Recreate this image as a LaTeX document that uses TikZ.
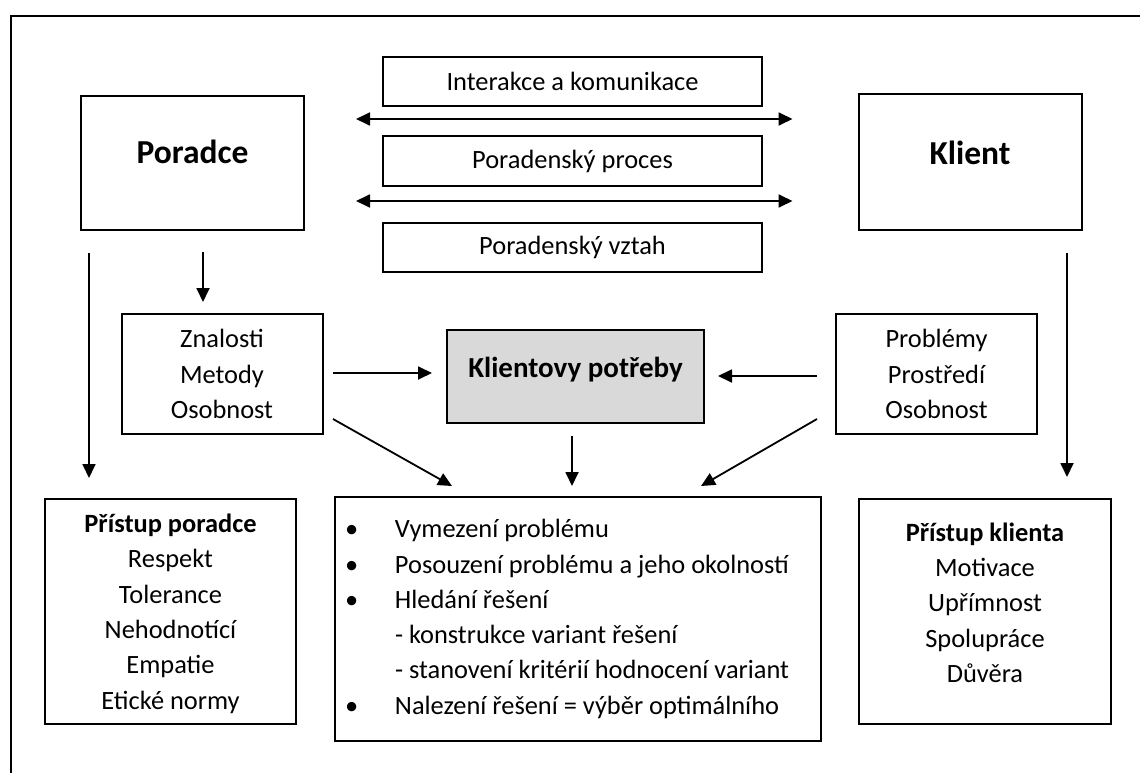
\documentclass[tikz,border=0pt]{standalone}
\usepackage{fontspec}
\setmainfont{Carlito}
\usetikzlibrary{arrows.meta,calc}
\begin{document}
\begin{tikzpicture}[x=1pt,y=-1pt,
  box/.style={draw,line width=2pt,rectangle,inner sep=0pt,align=center,
    font=\fontsize{26.4}{35.3}\selectfont},
  bigbox/.style={box,font=\fontsize{33.5}{40}\selectfont\bfseries},
  arr/.style={line width=1.8pt,-{Triangle[length=14pt,width=13pt]}},
  darr/.style={line width=1.8pt,{Triangle[length=14pt,width=13pt]}-{Triangle[length=14pt,width=13pt]}}
]
\useasboundingbox (0,0) rectangle (1140,773);
\draw[line width=1.2pt] (11,773) -- (11,16) -- (1140,16);

\node[bigbox,minimum width=223pt,minimum height=134pt,text height=24pt,text depth=23.6pt] (P) at (192.5,163) {Poradce};
\node[bigbox,minimum width=223pt,minimum height=135pt,text height=24pt,text depth=19.6pt] (K) at (970,162) {Klient};

\node[box,minimum width=379pt,minimum height=49pt] (I) at (572.5,81.5) {Interakce a komunikace};
\node[box,minimum width=379pt,minimum height=49pt] (PP) at (572.5,161) {Poradenský proces};
\node[box,minimum width=379pt,minimum height=49pt] (PV) at (572.5,247) {Poradenský vztah};

\node[box,minimum width=201pt,minimum height=120pt] (Zn) at (222,374) {Znalosti\\Metody\\Osobnost};
\node[box,fill={rgb,255:red,217;green,217;blue,217},minimum width=257pt,minimum height=93pt,
  font=\fontsize{29}{35}\selectfont\bfseries,text height=22pt,text depth=19.6pt] (KP) at (575.5,376.5) {Klientovy potřeby};
\node[box,minimum width=201pt,minimum height=120pt] (Pr) at (936.5,374) {Problémy\\Prostředí\\Osobnost};

\node[box,minimum width=251pt,minimum height=225pt,text depth=-14pt] (LB) at (170.5,611.5) {\textbf{Přístup poradce}\\Respekt\\Tolerance\\Nehodnotící\\Empatie\\Etické normy};
\node[box,minimum width=486pt,minimum height=244pt,align=flush left,text width=466pt] (M) at (578,619) {%
\makebox[50pt][l]{•}Vymezení problému\\
\makebox[50pt][l]{•}Posouzení problému a jeho okolností\\
\makebox[50pt][l]{•}Hledání řešení\\
\hspace*{50pt}- konstrukce variant řešení\\
\hspace*{50pt}- stanovení kritérií hodnocení variant\\
\makebox[50pt][l]{•}Nalezení řešení = výběr optimálního};
\node[box,minimum width=252pt,minimum height=225pt,text depth=18pt] (RB) at (985,611.5) {\textbf{Přístup klienta}\\Motivace\\Upřímnost\\Spolupráce\\Důvěra};

% connectors
\draw[darr] ($(P.east)+(51,-44)$) -- ($(K.west)+(-65,-43)$);
\draw[darr] ($(P.east)+(51,38)$) -- ($(K.west)+(-65,39)$);
\draw[arr] ($(P.south)+(10.5,21)$) -- ($(Zn.north)+(-19,-11)$);
\draw[arr] ($(P.south)+(-103.5,22)$) -- ($(LB.north)+(-81.5,-20)$);
\draw[arr] ($(K.south)+(97,22.5)$) -- ($(RB.north)+(82,-21)$);
\draw[arr] ($(Zn.east)+(9.5,-1)$) -- ($(KP.west)+(-14,-3.5)$);
\draw[arr] ($(Pr.west)+(-18,2)$) -- ($(KP.east)+(13,-0.5)$);
\draw[arr] ($(KP.south)+(-3.5,12)$) -- ($(M.north)+(-6,-10)$);
\draw[arr] ($(Zn.south east)+(9.5,-16)$) -- ($(M.north west)+(118,-10)$);
\draw[arr] ($(Pr.south west)+(-18,-16)$) -- ($(M.north east)+(-121,-10)$);
\end{tikzpicture}
\end{document}
